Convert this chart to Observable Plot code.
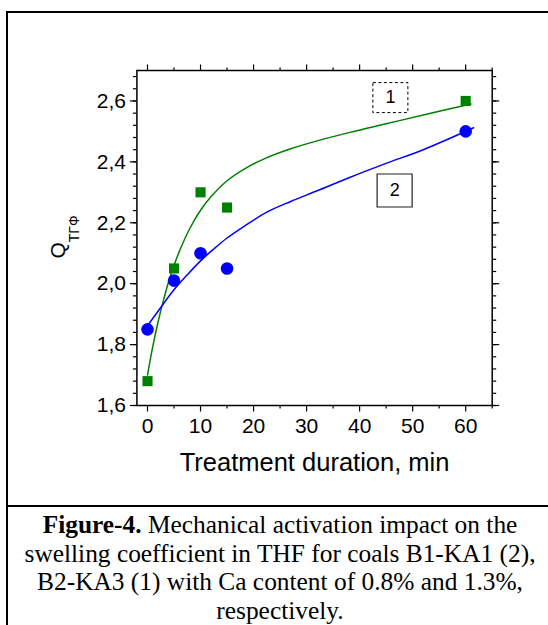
<!DOCTYPE html>
<html>
<head>
<meta charset="utf-8">
<script src="https://cdn.jsdelivr.net/npm/d3@7"></script>
<script src="https://cdn.jsdelivr.net/npm/@observablehq/plot@0.6"></script>
<style>
  html, body { margin: 0; padding: 0; background: #fff; overflow: hidden; }
  #wrap { position: relative; width: 548px; height: 625px; overflow: hidden; }
  #box { position: absolute; left: 6px; top: 11px; width: 620px; height: 700px;
         border-left: 2.5px solid #000; border-top: 2.5px solid #000; }
  #sep { position: absolute; left: 6px; top: 504.5px; width: 620px; height: 2.5px; background: #000; }
  #chart { position: absolute; left: 0; top: 0; }
  #caption { position: absolute; left: 8px; top: 510px; width: 544px; text-align: center;
             font-family: 'Liberation Serif', 'Times New Roman', serif; font-size: 25.4px;
             line-height: 28.6px; white-space: nowrap; color: #000; }
</style>
</head>
<body>
<div id="wrap">
  <div id="box"></div>
  <div id="sep"></div>
  <div id="chart"></div>
  <div id="caption"><b>Figure-4.</b> Mechanical activation impact on the<br>swelling coefficient in THF for coals B1-KA1 (2),<br>B2-KA3 (1) with Ca content of 0.8% and 1.3%,<br>respectively.</div>
</div>
<script>
// ---- data ----
const times   = [0, 5, 10, 15, 60];
const series1 = [1.68, 2.05, 2.30, 2.25, 2.60]; // curve 1 (green squares)
const series2 = [1.85, 2.01, 2.10, 2.05, 2.50]; // curve 2 (blue circles)

// fitted curves
const fit1T = [0, 1, 2, 3, 4, 5, 6, 8, 10, 12, 15, 18, 22, 27, 32, 38, 45, 52, 61];
const fit1V = [1.70, 1.794, 1.875, 1.945, 2.007, 2.06, 2.106, 2.182, 2.241, 2.286, 2.338, 2.374, 2.410, 2.443, 2.469, 2.496, 2.525, 2.554, 2.59];
const fit2T = [0, 2.5, 5, 7.5, 10, 12.5, 15, 18, 22.5, 27, 32, 38, 45, 52, 61.5];
const fit2V = [1.862, 1.922, 1.98, 2.029, 2.075, 2.114, 2.15, 2.186, 2.235, 2.27, 2.305, 2.348, 2.395, 2.44, 2.512];

const boxText = ["1", "2"];
const boxT = [45.8, 46.6];
const boxV = [2.611, 2.306];

const xTicks = [0, 10, 20, 30, 40, 50, 60];
const xMinor = [5, 15, 25, 35, 45, 55, 65];
const yTicks = [1.6, 1.8, 2.0, 2.2, 2.4, 2.6];
const yMinor = d3.range(0, 28).map(k => +(1.6 + 0.04 * k).toFixed(2));

const xTitle = "Treatment duration, min";
const yLabelMain = "Q";
const yLabelSub = "ТГФ";

// ---- build tables ----
const pts1 = times.map((t, i) => ({t, v: series1[i]}));
const pts2 = times.map((t, i) => ({t, v: series2[i]}));
const fit1 = fit1T.map((t, i) => ({t, v: fit1V[i]}));
const fit2 = fit2T.map((t, i) => ({t, v: fit2V[i]}));
const boxes = boxText.map((s, i) => ({s, t: boxT[i], v: boxV[i]}));

const fmt = d => d.toFixed(1).replace(".", ",");
const rect1 = {draw(ctx) { ctx.rect(-17.5, -15, 35, 30); }};
const rect2 = {draw(ctx) { ctx.rect(-17.5, -16.5, 35, 33); }};

const tickW = 1.2;
const plot = Plot.plot({
  width: 548, height: 506,
  marginLeft: 136.4, marginRight: 56.3, marginTop: 70, marginBottom: 101,
  style: {fontFamily: "'Liberation Sans', Arial, sans-serif", fontSize: "21px",
          background: "transparent", color: "#000", overflow: "visible"},
  x: {domain: [-2, 65]},
  y: {domain: [1.6, 2.7]},
  marks: [
    Plot.axisX({anchor: "bottom", ticks: xTicks, tickSize: 6.5, tickPadding: 6, tickFormat: d => String(d), label: null, strokeWidth: tickW}),
    Plot.axisX({anchor: "bottom", ticks: xMinor, tickSize: 3.5, fill: "none", label: null, strokeWidth: tickW}),
    Plot.axisX({anchor: "top", ticks: xTicks, tickSize: 6.5, fill: "none", label: null, strokeWidth: tickW}),
    Plot.axisX({anchor: "top", ticks: xMinor, tickSize: 3.5, fill: "none", label: null, strokeWidth: tickW}),
    Plot.axisY({anchor: "left", ticks: yTicks, tickSize: 6.5, tickPadding: 4.5, tickFormat: fmt, label: null, strokeWidth: tickW}),
    Plot.axisY({anchor: "left", ticks: yMinor, tickSize: 3.5, fill: "none", label: null, strokeWidth: tickW}),
    Plot.axisY({anchor: "right", ticks: yTicks, tickSize: 6.5, fill: "none", label: null, strokeWidth: tickW}),
    Plot.axisY({anchor: "right", ticks: yMinor, tickSize: 3.5, fill: "none", label: null, strokeWidth: tickW}),
    Plot.frame({stroke: "#000", strokeWidth: 1.5}),
    Plot.line(fit1, {x: "t", y: "v", stroke: "#008000", strokeWidth: 1.5, curve: "catmull-rom"}),
    Plot.line(fit2, {x: "t", y: "v", stroke: "#0000ff", strokeWidth: 1.5, curve: "catmull-rom"}),
    Plot.dot(pts1, {x: "t", y: "v", symbol: "square", r: 5.7, fill: "#008000"}),
    Plot.dot(pts2, {x: "t", y: "v", symbol: "circle", r: 6.3, fill: "#0000ff"}),
    Plot.dot([boxes[0]], {x: "t", y: "v", symbol: rect1, r: 5, fill: "none", stroke: "#000", strokeWidth: 1, strokeDasharray: "3,2.5"}),
    Plot.dot([boxes[1]], {x: "t", y: "v", symbol: rect2, r: 5, fill: "none", stroke: "#222", strokeWidth: 1.2}),
    Plot.text(boxes, {x: "t", y: "v", text: "s", fontSize: 18, fill: "#000"}),
    Plot.text([xTitle], {text: d => d, frameAnchor: "bottom", lineAnchor: "top", dy: 47.25, fontSize: 25.5, fill: "#000"})
  ]
});

const svg = d3.select(plot);
const yl = svg.append("text")
  .attr("transform", "translate(65,237) rotate(-90)")
  .attr("text-anchor", "middle")
  .attr("font-size", 21)
  .attr("fill", "#000");
yl.append("tspan").text(yLabelMain);
yl.append("tspan").attr("font-size", 14).attr("dy", 14).text(yLabelSub);

document.getElementById("chart").appendChild(plot);
</script>
</body>
</html>
